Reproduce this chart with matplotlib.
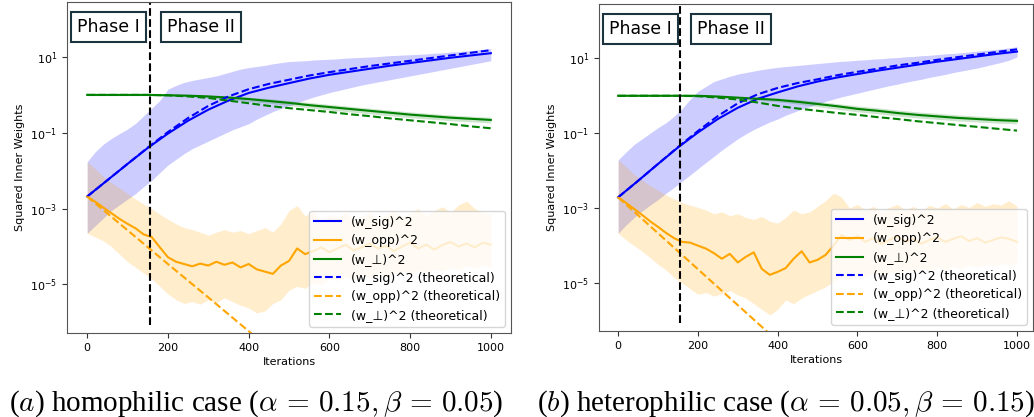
import numpy as np
import matplotlib.pyplot as plt
from matplotlib.ticker import NullLocator

plt.rcParams['mathtext.fontset'] = 'cm'

# iteration grids
it_fine = np.arange(0, 1001, 20)     # noisy curves / bands
it_coarse = np.arange(0, 1001, 50)   # smooth curves
it_theo_opp = np.arange(0, 1001, 100)
phase_split = 155

# ---- (a) homophilic, all values are log10 ----
sig_mean_a = [-2.68, -2.25, -1.82, -1.40, -1.02, -0.68, -0.39, -0.15, 0.05, 0.19, 0.31,
              0.43, 0.53, 0.61, 0.69, 0.77, 0.84, 0.91, 0.98, 1.04, 1.10]
sig_theo_a = [-2.68, -2.25, -1.82, -1.39, -0.98, -0.61, -0.29, -0.04, 0.15, 0.29, 0.40,
              0.51, 0.60, 0.68, 0.76, 0.83, 0.90, 0.97, 1.04, 1.11, 1.18]
perp_mean_a = [0.0, 0.0, 0.0, 0.0, -0.01, -0.02, -0.04, -0.07, -0.11, -0.16, -0.21,
               -0.27, -0.32, -0.37, -0.42, -0.47, -0.52, -0.56, -0.60, -0.63, -0.66]
perp_theo_a = [0.0, 0.0, 0.0, 0.0, -0.01, -0.04, -0.08, -0.15, -0.22, -0.29, -0.35,
               -0.40, -0.45, -0.51, -0.56, -0.62, -0.67, -0.72, -0.77, -0.83, -0.88]
perp_hi_a = [0.02, 0.02, 0.02, 0.02, 0.02, 0.01, -0.01, -0.03, -0.06, -0.10, -0.15,
             -0.20, -0.25, -0.30, -0.35, -0.40, -0.45, -0.49, -0.53, -0.56, -0.59]
perp_lo_a = [-0.02, -0.02, -0.02, -0.02, -0.03, -0.05, -0.08, -0.12, -0.17, -0.22, -0.28,
             -0.34, -0.40, -0.45, -0.50, -0.55, -0.60, -0.64, -0.68, -0.71, -0.74]
opp_theo_a = [-2.68, -3.57, -4.46, -5.34, -6.23, -7.12, -8.01, -8.90, -9.78, -10.67, -11.56]
opp_mean_a = [-2.68, -2.82, -2.97, -3.12, -3.27, -3.40, -3.52, -3.68, -3.75, -4.02, -4.28,
              -4.40, -4.46, -4.52, -4.45, -4.50, -4.40, -4.48, -4.42, -4.55, -4.46,
              -4.60, -4.66, -4.72, -4.50, -4.38, -4.05, -4.20, -4.12, -4.02, -4.15,
              -4.05, -3.95, -4.10, -4.02, -3.92, -4.05, -3.98, -4.12, -4.00, -3.90,
              -4.05, -3.95, -4.08, -3.96, -3.88, -4.00, -3.92, -4.02, -3.90, -3.95]
opp_hi_a = [-1.76, -1.95, -2.15, -2.32, -2.45, -2.60, -2.75, -2.88, -3.00, -3.15, -3.28,
            -3.40, -3.50, -3.55, -3.62, -3.70, -3.62, -3.55, -3.62, -3.58, -3.66,
            -3.58, -3.50, -3.62, -3.40, -3.05, -2.92, -3.20, -3.05, -3.30, -3.15,
            -3.25, -3.10, -3.30, -3.20, -3.10, -3.28, -3.15, -3.05, -3.22, -3.12,
            -3.00, -3.18, -3.05, -2.95, -3.10, -2.90, -2.80, -3.00, -3.10, -3.15]
opp_lo_a = [-3.65, -3.75, -3.85, -4.00, -4.20, -4.40, -4.55, -4.70, -4.85, -5.05, -5.25,
            -5.40, -5.50, -5.45, -5.52, -5.40, -5.48, -5.35, -5.45, -5.55, -5.62,
            -5.75, -5.70, -5.50, -5.40, -5.15, -5.05, -5.10, -4.95, -5.00, -4.85,
            -4.90, -4.80, -4.88, -4.75, -4.85, -4.70, -4.80, -4.72, -4.65, -4.75,
            -4.62, -4.70, -4.58, -4.65, -4.55, -4.62, -4.50, -4.58, -4.48, -4.55]
sig_hi_a = [-1.76, -1.50, -1.30, -1.15, -1.02, -0.90, -0.75, -0.55, -0.35, -0.15, 0.15,
            0.25, 0.33, 0.38, 0.42, 0.46, 0.50, 0.56, 0.62, 0.68, 0.72,
            0.75, 0.78, 0.82, 0.85, 0.88, 0.89, 0.90, 0.92, 0.93, 0.94,
            0.95, 0.97, 0.98, 0.99, 1.00, 1.01, 1.03, 1.04, 1.05, 1.06,
            1.07, 1.08, 1.10, 1.11, 1.13, 1.14, 1.16, 1.18, 1.20, 1.22]
sig_lo_a = [-3.65, -3.45, -3.25, -3.05, -2.90, -2.75, -2.60, -2.42, -2.25, -2.05, -1.85,
            -1.70, -1.55, -1.42, -1.32, -1.22, -1.12, -1.02, -0.92, -0.84, -0.76,
            -0.64, -0.54, -0.44, -0.36, -0.29, -0.21, -0.13, -0.06, 0.00, 0.06,
            0.11, 0.16, 0.21, 0.26, 0.30, 0.34, 0.38, 0.42, 0.46, 0.50,
            0.54, 0.58, 0.62, 0.66, 0.70, 0.74, 0.78, 0.82, 0.86, 0.90]

# ---- (b) heterophilic, log10 ----
sig_mean_b = [-2.71, -2.27, -1.82, -1.38, -0.98, -0.62, -0.32, -0.08, 0.09, 0.25, 0.38,
              0.49, 0.58, 0.67, 0.75, 0.83, 0.91, 0.98, 1.05, 1.12, 1.18]
sig_theo_b = [-2.71, -2.27, -1.82, -1.37, -0.94, -0.54, -0.20, 0.04, 0.21, 0.34, 0.44,
              0.55, 0.64, 0.72, 0.81, 0.88, 0.96, 1.03, 1.10, 1.17, 1.24]
perp_mean_b = [0.0, 0.0, 0.0, 0.0, 0.0, -0.02, -0.05, -0.08, -0.11, -0.16, -0.22,
               -0.28, -0.35, -0.40, -0.46, -0.51, -0.55, -0.59, -0.62, -0.65, -0.67]
perp_theo_b = [0.0, 0.0, 0.0, 0.0, -0.01, -0.05, -0.10, -0.18, -0.27, -0.34, -0.40,
               -0.46, -0.51, -0.57, -0.62, -0.68, -0.73, -0.78, -0.83, -0.88, -0.93]
perp_hi_b = [0.02, 0.02, 0.02, 0.02, 0.02, 0.01, -0.02, -0.04, -0.06, -0.10, -0.15,
             -0.21, -0.27, -0.32, -0.38, -0.43, -0.47, -0.51, -0.54, -0.57, -0.59]
perp_lo_b = [-0.02, -0.02, -0.02, -0.02, -0.03, -0.05, -0.08, -0.12, -0.16, -0.22, -0.29,
             -0.36, -0.43, -0.48, -0.54, -0.59, -0.63, -0.67, -0.70, -0.73, -0.75]
opp_theo_b = [-2.71, -3.67, -4.63, -5.59, -6.55, -7.51, -8.47, -9.43, -10.39, -11.35, -12.31]
opp_mean_b = [-2.71, -2.86, -3.02, -3.18, -3.35, -3.50, -3.66, -3.80, -3.90, -3.92, -4.00,
              -4.08, -4.20, -4.35, -4.22, -4.45, -4.30, -4.18, -4.62, -4.78, -4.70,
              -4.60, -4.35, -4.15, -4.45, -4.38, -4.25, -4.00, -3.72, -3.85, -3.75,
              -3.90, -3.80, -3.95, -3.85, -3.75, -3.90, -3.82, -3.95, -3.85, -3.78,
              -3.90, -3.82, -3.75, -3.88, -3.80, -3.92, -3.85, -3.78, -3.82, -3.90]
opp_hi_b = [-1.71, -1.90, -2.10, -2.25, -2.40, -2.52, -2.65, -2.75, -2.85, -2.92, -2.98,
            -3.05, -3.15, -3.10, -3.20, -3.15, -3.25, -3.30, -3.22, -3.35, -3.40,
            -3.25, -3.05, -3.15, -3.10, -2.95, -2.80, -2.60, -2.70, -3.00, -2.90,
            -3.05, -2.95, -3.10, -2.98, -2.90, -3.05, -2.95, -3.08, -2.92, -3.00,
            -2.88, -3.02, -2.90, -2.98, -2.85, -2.95, -2.88, -2.92, -2.80, -2.95]
opp_lo_b = [-3.67, -3.85, -4.00, -4.15, -4.32, -4.50, -4.65, -4.85, -5.00, -5.15, -5.30,
            -5.25, -5.35, -5.28, -5.20, -5.32, -5.40, -5.55, -5.70, -5.85, -5.70,
            -5.45, -5.55, -5.40, -5.30, -5.20, -5.10, -4.95, -4.85, -4.90, -4.80,
            -4.85, -4.72, -4.80, -4.70, -4.75, -4.65, -4.72, -4.60, -4.68, -4.58,
            -4.65, -4.55, -4.62, -4.52, -4.58, -4.50, -4.56, -4.48, -4.52, -4.45]
sig_hi_b = [-1.71, -1.50, -1.30, -1.15, -1.00, -0.85, -0.72, -0.55, -0.35, -0.10, 0.12,
            0.25, 0.38, 0.45, 0.52, 0.58, 0.62, 0.66, 0.70, 0.73, 0.76,
            0.78, 0.80, 0.82, 0.84, 0.86, 0.88, 0.90, 0.92, 0.93, 0.95,
            0.96, 0.98, 0.99, 1.01, 1.02, 1.04, 1.05, 1.07, 1.08, 1.10,
            1.12, 1.13, 1.15, 1.17, 1.19, 1.21, 1.23, 1.25, 1.28, 1.31]
sig_lo_b = [-3.67, -3.45, -3.25, -3.08, -2.92, -2.77, -2.60, -2.45, -2.28, -2.12, -1.95,
            -1.78, -1.62, -1.45, -1.30, -1.15, -1.02, -0.90, -0.80, -0.70, -0.62,
            -0.52, -0.44, -0.36, -0.29, -0.22, -0.15, -0.09, -0.03, 0.02, 0.07,
            0.12, 0.17, 0.22, 0.27, 0.31, 0.36, 0.40, 0.44, 0.49, 0.53,
            0.57, 0.62, 0.66, 0.70, 0.74, 0.79, 0.84, 0.89, 0.95, 1.04]

captions = [r'($a$) homophilic case ($\alpha\,=\,0.15, \beta\,=\,0.05$)',
            r'($b$) heterophilic case ($\alpha\,=\,0.05, \beta\,=\,0.15$)']


def p(v):
    return 10.0 ** np.asarray(v)


def draw(ax, d, xlim):
    ax.fill_between(it_fine, p(d['sig_lo']), p(d['sig_hi']), color='blue', alpha=0.2, lw=0)
    ax.fill_between(it_fine, p(d['opp_lo']), p(d['opp_hi']), color='orange', alpha=0.2, lw=0)
    ax.fill_between(it_coarse, p(d['perp_lo']), p(d['perp_hi']), color='green', alpha=0.2, lw=0)
    ax.plot(it_coarse, p(d['sig_mean']), color='blue', lw=1.5, label='(w_sig)^2')
    ax.plot(it_fine, p(d['opp_mean']), color='orange', lw=1.5, label='(w_opp)^2')
    ax.plot(it_coarse, p(d['perp_mean']), color='green', lw=1.5, label='(w_\u22a5)^2')
    ax.plot(it_coarse, p(d['sig_theo']), color='blue', lw=1.5, ls='--', label='(w_sig)^2 (theoretical)')
    ax.plot(it_theo_opp, p(d['opp_theo']), color='orange', lw=1.5, ls='--', label='(w_opp)^2 (theoretical)')
    ax.plot(it_coarse, p(d['perp_theo']), color='green', lw=1.5, ls='--', label='(w_\u22a5)^2 (theoretical)')
    ax.axvline(phase_split, ymin=0.025, color='black', ls='--', lw=1.5)
    ax.set_yscale('log')
    ax.set_ylim(10 ** -6.28, 10 ** 2.45)
    ax.set_xlim(*xlim)
    ax.set_yticks([1e1, 1e-1, 1e-3, 1e-5])
    ax.yaxis.set_minor_locator(NullLocator())
    ax.set_xticks([0, 200, 400, 600, 800, 1000])
    ax.tick_params(labelsize=8, colors='#333333', labelcolor='black')
    for s in ax.spines.values():
        s.set_color('#555555')
    ax.set_xlabel('Iterations', fontsize=8, labelpad=3)
    ax.set_ylabel('Squared Inner Weights', fontsize=8)
    box = dict(boxstyle='square,pad=0.35', facecolor='white', edgecolor='#1c3340', lw=1.5)
    ax.text(0.0225, 0.952, 'Phase I', transform=ax.transAxes, fontsize=12.5, va='top', bbox=box)
    ax.text(0.225, 0.952, 'Phase II', transform=ax.transAxes, fontsize=12.5, va='top', bbox=box)
    ax.legend(loc='lower right', fontsize=9, labelspacing=0.45, handlelength=2.1)


data_a = dict(sig_mean=sig_mean_a, sig_theo=sig_theo_a, sig_hi=sig_hi_a, sig_lo=sig_lo_a,
              opp_mean=opp_mean_a, opp_theo=opp_theo_a, opp_hi=opp_hi_a, opp_lo=opp_lo_a,
              perp_mean=perp_mean_a, perp_theo=perp_theo_a, perp_hi=perp_hi_a, perp_lo=perp_lo_a)
data_b = dict(sig_mean=sig_mean_b, sig_theo=sig_theo_b, sig_hi=sig_hi_b, sig_lo=sig_lo_b,
              opp_mean=opp_mean_b, opp_theo=opp_theo_b, opp_hi=opp_hi_b, opp_lo=opp_lo_b,
              perp_mean=perp_mean_b, perp_theo=perp_theo_b, perp_hi=perp_hi_b, perp_lo=perp_lo_b)

fig = plt.figure(figsize=(10.34, 4.17), dpi=100)
ax1 = fig.add_axes([0.0648, 0.2014, 0.4294, 0.7938])
ax2 = fig.add_axes([0.5793, 0.2062, 0.4197, 0.7842])
draw(ax1, data_a, (-50, 1050))
draw(ax2, data_b, (-48, 1040))

fig.text(256 / 1034, 0.016, captions[0], ha='center', va='baseline',
         fontsize=21, family='Liberation Serif')
fig.text(786 / 1034, 0.016, captions[1], ha='center', va='baseline',
         fontsize=21, family='Liberation Serif')

plt.savefig('out.png', dpi=100)
